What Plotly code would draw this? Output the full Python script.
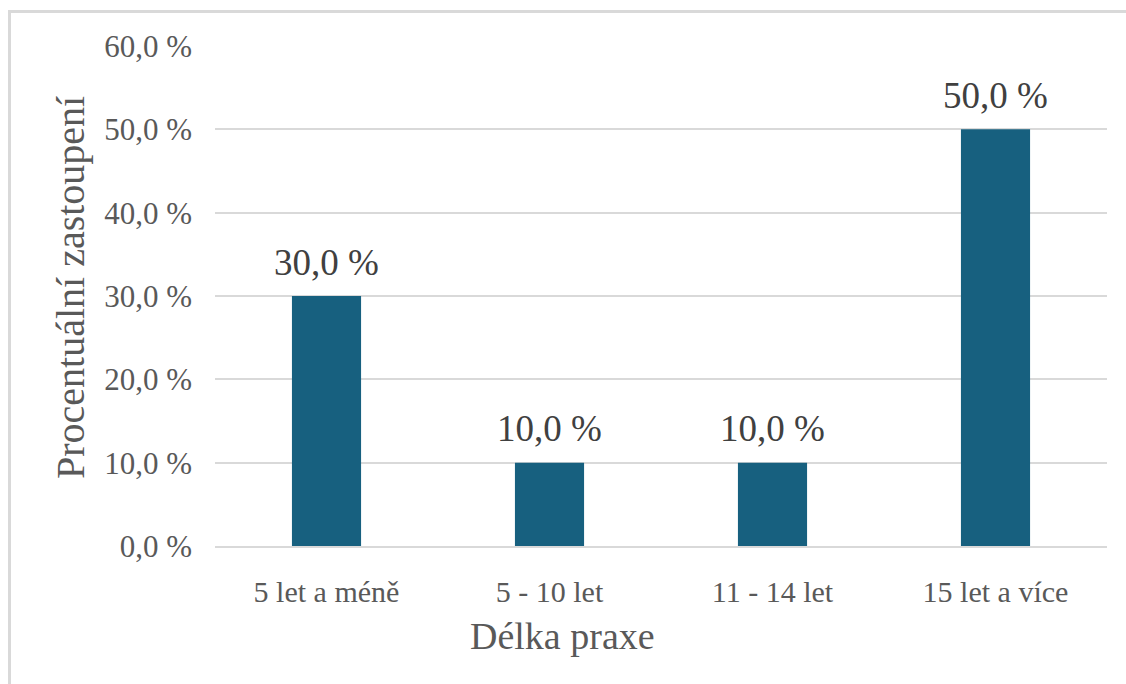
import plotly.graph_objects as go

categories = ["5 let a méně", "5 - 10 let", "11 - 14 let", "15 let a více"]
values = [30.0, 10.0, 10.0, 50.0]
y_ticks = [0, 10, 20, 30, 40, 50, 60]
y_title = "Procentuální zastoupení"
x_title = "Délka praxe"

def pct(v):
    return f"{v:.1f}".replace(".", ",") + " %"

W, H = 1126, 684
L, R, T, B = 215, 19, 46, 138
PW, PH = W - L - R, H - T - B

def px_x(p):
    return (p - L) / PW

def px_y(p):
    return (H - B - p) / PH

FONT = "Liberation Serif"
BAR = "#17607F"
GRID = "#D9D9D9"

fig = go.Figure()
fig.add_trace(go.Bar(
    x=categories, y=values, marker=dict(color=BAR, line=dict(width=0)),
    hoverinfo="skip",
))

annotations = []
for c, v in zip(categories, values):
    annotations.append(dict(
        x=c, y=v, xref="x", yref="y", text=pct(v),
        showarrow=False, yanchor="middle", yshift=34,
        font=dict(family=FONT, size=37, color="#404040"),
    ))
annotations.append(dict(
    x=px_x(562), y=px_y(636), xref="paper", yref="paper", text=x_title,
    showarrow=False, xanchor="center", yanchor="middle",
    font=dict(family=FONT, size=38, color="#595959"),
))
annotations.append(dict(
    x=px_x(70), y=px_y(288), xref="paper", yref="paper", text=y_title,
    showarrow=False, xanchor="center", yanchor="middle", textangle=-90,
    font=dict(family=FONT, size=40, color="#595959"),
))

shapes = [
    dict(type="line", xref="paper", yref="paper",
         x0=px_x(9.5), x1=px_x(9.5), y0=px_y(10), y1=px_y(H + 5),
         line=dict(color=GRID, width=3)),
    dict(type="line", xref="paper", yref="paper",
         x0=px_x(8), x1=px_x(W + 5), y0=px_y(11.5), y1=px_y(11.5),
         line=dict(color=GRID, width=3)),
]

fig.update_layout(
    width=W, height=H,
    margin=dict(l=L, r=R, t=T, b=B, pad=0),
    paper_bgcolor="white", plot_bgcolor="white",
    bargap=0.69, showlegend=False,
    annotations=annotations, shapes=shapes,
    font=dict(family=FONT, color="#595959"),
)
fig.update_yaxes(
    range=[0, 60], tickmode="array", tickvals=y_ticks,
    ticktext=[pct(v) for v in y_ticks],
    showgrid=True, gridcolor=GRID, gridwidth=1.5,
    zeroline=False, showline=False, ticks="",
    tickfont=dict(family=FONT, size=31, color="#595959"),
    ticklabelstandoff=22,
)
fig.update_xaxes(
    showgrid=False, zeroline=False, showline=True, linecolor=GRID, linewidth=2,
    ticks="", tickfont=dict(family=FONT, size=30, color="#595959"),
    ticklabelstandoff=18,
)

fig.write_html("out.html")
